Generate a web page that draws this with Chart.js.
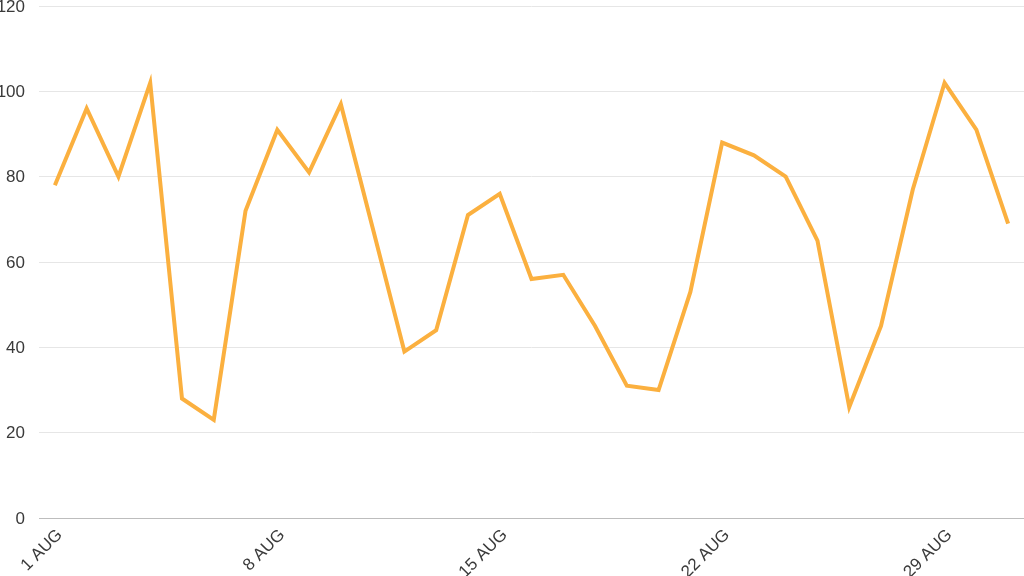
<!DOCTYPE html>
<html>
<head>
<meta charset="utf-8">
<script src="https://cdn.jsdelivr.net/npm/chart.js@4"></script>
<style>
  html, body { margin: 0; padding: 0; background: #fff; overflow: hidden; }
  .wrap { width: 1024px; height: 576px; position: relative; }
</style>
</head>
<body>
<div class="wrap"><canvas id="chart"></canvas></div>
<script>
// days of August
const days = [
  '1 AUG', '2 AUG', '3 AUG', '4 AUG', '5 AUG', '6 AUG', '7 AUG',
  '8 AUG', '9 AUG', '10 AUG', '11 AUG', '12 AUG', '13 AUG', '14 AUG',
  '15 AUG', '16 AUG', '17 AUG', '18 AUG', '19 AUG', '20 AUG', '21 AUG',
  '22 AUG', '23 AUG', '24 AUG', '25 AUG', '26 AUG', '27 AUG', '28 AUG',
  '29 AUG', '30 AUG', '31 AUG'
];

// daily values
const values = [
  78, 96, 80, 102, 28, 23, 72,
  91, 81, 97, 68, 39, 44, 71,
  76, 56, 57, 45, 31, 30, 53,
  88, 85, 80, 65, 26, 45, 77,
  102, 91, 69
];

const yTicks = [0, 20, 40, 60, 80, 100, 120];

const font = { family: '"Liberation Sans", Arial, sans-serif', size: 17 };

new Chart(document.getElementById('chart'), {
  type: 'line',
  data: {
    labels: days,
    datasets: [{
      data: values,
      borderColor: '#fbb03f',
      borderWidth: 4,
      pointRadius: 0,
      tension: 0,
      fill: false
    }]
  },
  options: {
    responsive: true,
    maintainAspectRatio: false,
    animation: false,
    plugins: { legend: { display: false }, tooltip: { enabled: false } },
    layout: { padding: 0 },
    scales: {
      x: {
        offset: true,
        grid: { display: false, drawTicks: false },
        border: { display: true, color: '#bdbdbd', width: 1 },
        ticks: {
          autoSkip: false,
          minRotation: 45,
          maxRotation: 45,
          color: '#3a3a3a',
          font: font,
          padding: 7,
          labelOffset: 5,
          callback: (v, i) => (i % 7 === 0 ? days[i] : null)
        },
        afterFit: (axis) => {
          // labels run off the bottom edge like in the original
          axis.height = 58;
          axis.paddingLeft = 0;
          axis.paddingRight = 0;
        }
      },
      y: {
        min: yTicks[0],
        max: yTicks[yTicks.length - 1],
        afterBuildTicks: (axis) => { axis.ticks = yTicks.map(v => ({ value: v })); },
        grid: { color: '#e6e6e6', drawTicks: false },
        border: { display: false },
        ticks: { color: '#3a3a3a', font: font, padding: 14, labelOffset: 1 },
        afterFit: (axis) => {
          axis.width = 39;
          axis.paddingTop = 6;
          axis.paddingBottom = 0;
        }
      }
    }
  }
});
</script>
</body>
</html>
